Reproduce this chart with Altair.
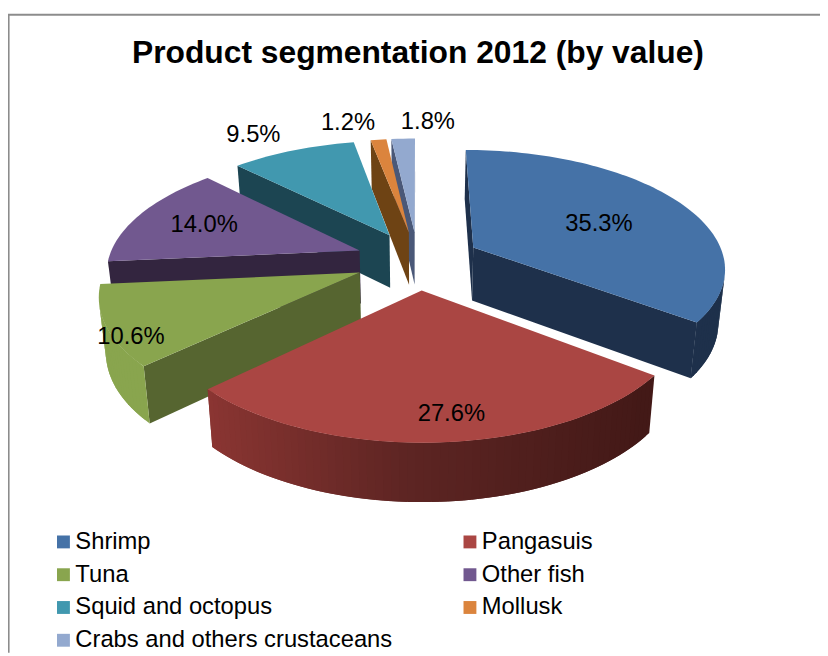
import math
import altair as alt

# ---- values ----
categories = ["Shrimp", "Pangasuis", "Tuna", "Other fish", "Squid and octopus", "Mollusk", "Crabs and others crustaceans"]
values = [35.3, 27.6, 10.6, 14.0, 9.5, 1.2, 1.8]
labels = ["35.3%", "27.6%", "10.6%", "14.0%", "9.5%", "1.2%", "1.8%"]
top_colors = ["#4572A7", "#AA4643", "#89A54E", "#71588F", "#4198AF", "#DB843D", "#93A9CF"]
side_colors = ["#1E304B", "#5F2523", "#566530", "#33253F", "#1C4552", "#6E4314", "#4A5878"]
rim_colors = ["#1E304B", None, "#89A54E", "#33253F", "#1C4552", "#6E4314", "#4A5878"]
paint_order = [6, 5, 4, 3, 2, 0, 1]
label_offsets = [(127, -24), (30, 124.5), (-231, 65.5), (-157, -25.5), (-137.5, -101.5), (-61.5, -110.5), (13.5, -111.5)]

# ---- projection of the tilted, exploded pie (plot-area pixels) ----
CX, CY, RX, RY, K = 414.0, 251.5, 254.0, 118.0, 0.16
EXPLODE, DEPTH, K2, SHRINK = 0.25, 54.0, 0.08, 0.978


def top(u, v):
    s = 1.0 / (1 - K * v)
    return [CX + RX * u * s, CY + RY * v * s]


def bottom(u, v):
    x, y = top(u, v)
    return [CX + (x - CX) * SHRINK, y + DEPTH / (1 - K2 * v)]


def feature(points, name, color):
    ring = [[round(p[0], 2), round(p[1], 2)] for p in points]
    ring.append(ring[0])
    return {"type": "Feature", "geometry": {"type": "Polygon", "coordinates": [ring]},
            "properties": {"name": name, "c": color}}


def collection(features):
    return alt.InlineData(values={"type": "FeatureCollection", "features": features},
                          format=alt.DataFormat(property="features", type="json"))


def mix(a, b, t):
    ca = [int(a[i:i + 2], 16) for i in (1, 3, 5)]
    cb = [int(b[i:i + 2], 16) for i in (1, 3, 5)]
    return "#%02x%02x%02x" % tuple(round(x + (y - x) * t) for x, y in zip(ca, cb))


def area(pts):
    return sum(pts[i][0] * pts[(i + 1) % len(pts)][1] - pts[(i + 1) % len(pts)][0] * pts[i][1]
               for i in range(len(pts)))


PROJ = dict(type="identity", scale=1, translate=[0, 0])
color_scale = alt.Scale(domain=categories, range=top_colors)
legend = alt.Legend(title=None, orient="none", legendX=44, legendY=524, direction="horizontal", columns=2,
                    symbolType="square", symbolSize=169, symbolStrokeWidth=0, symbolOpacity=1,
                    labelFont="Liberation Sans", labelFontSize=24, labelColor="#000000", labelOffset=0,
                    rowPadding=9.1, columnPadding=65.5, labelLimit=400, padding=0)

starts, total = [], 0.0
for v in values:
    starts.append(total)
    total += v

apex, layers = {}, []
for idx in paint_order:
    a0 = starts[idx] * 3.6
    a1 = (starts[idx] + values[idx]) * 3.6
    mid = math.radians((a0 + a1) / 2)
    eu, ev = EXPLODE * math.sin(mid), -EXPLODE * math.cos(mid)
    steps = max(2, int((a1 - a0) / 1.5))
    rim = []
    for s in range(steps + 1):
        a = math.radians(a0 + (a1 - a0) * s / steps)
        rim.append((eu + math.sin(a), ev - math.cos(a)))
    apex[idx] = top(eu, ev)
    boundary = [(eu, ev)] + rim
    walls = []
    n = len(boundary)
    for i in range(n):
        e1, e2 = boundary[i], boundary[(i + 1) % n]
        if area([top(*e1), top(*e2), bottom(*e2), bottom(*e1)]) >= 0:
            continue
        radial = i == 0 or i == n - 1
        if not radial and i + 2 < n:
            e2 = boundary[i + 2]  # overlap the next strip so no seam shows
        quad = [top(*e1), top(*e2), bottom(*e2), bottom(*e1)]
        if radial:
            col = side_colors[idx]
        elif rim_colors[idx] is None:
            t = max(0.0, min(1.0, (quad[0][0] - 205) / 440))
            col = mix("#8A3532", "#5E2523", t / 0.45) if t < 0.45 else mix("#5E2523", "#431917", (t - 0.45) / 0.55)
        else:
            col = rim_colors[idx]
        walls.append(feature(quad, categories[idx], col))
    layers.append(
        alt.Chart(collection(walls)).mark_geoshape(strokeWidth=0).encode(
            fill=alt.Color("properties.c:N", scale=None, legend=None),
        ).project(**PROJ)
    )
    face = feature([top(*p) for p in boundary], categories[idx], top_colors[idx])
    layers.append(
        alt.Chart(collection([face])).mark_geoshape(strokeWidth=0).encode(
            color=alt.Color("properties.name:N", scale=color_scale, sort=categories, legend=legend),
        ).project(**PROJ)
    )

label_rows = [
    {"label": labels[i], "x": apex[i][0] + label_offsets[i][0], "y": apex[i][1] + label_offsets[i][1]}
    for i in range(len(labels))
]
text = alt.Chart(alt.Data(values=label_rows)).mark_text(
    font="Liberation Sans", fontSize=24, color="#000000", align="center", baseline="middle"
).encode(
    x=alt.X("x:Q", scale=None, axis=None),
    y=alt.Y("y:Q", scale=None, axis=None),
    text="label:N",
)

top_line = alt.Chart(alt.Data(values=[{"k": 1}])).mark_rule(color="#8C8C8C", strokeWidth=2).encode(
    x=alt.value(0), x2=alt.value(820), y=alt.value(3.6))
left_line = alt.Chart(alt.Data(values=[{"k": 1}])).mark_rule(color="#8C8C8C", strokeWidth=2).encode(
    y=alt.value(3), y2=alt.value(648), x=alt.value(0.6))

chart = alt.layer(top_line, left_line, *layers, text).properties(
    width=820, height=648, padding=0, background="white",
    autosize=alt.AutoSizeParams(type="none"),
    title=alt.TitleParams("Product segmentation 2012 (by value)", font="Liberation Sans", fontSize=32.1,
                          fontWeight="bold", color="#000000", anchor="middle", frame="group",
                          dx=4, dy=63),
).configure_view(strokeWidth=0)

chart.save("out.html", embed_options={"renderer": "svg", "actions": False})
